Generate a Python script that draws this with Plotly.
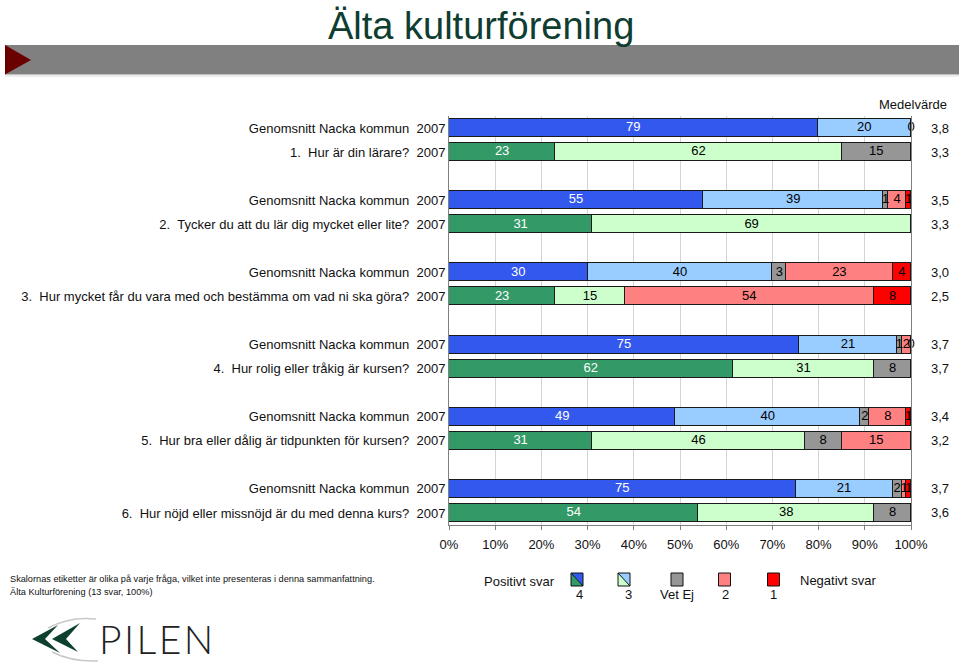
import plotly.graph_objects as go

# ---------------- data ----------------
questions = [
    "1.\u00a0\u00a0Hur är din lärare?",
    "2.\u00a0\u00a0Tycker du att du lär dig mycket eller lite?",
    "3.\u00a0\u00a0Hur mycket får du vara med och bestämma om vad ni ska göra?",
    "4.\u00a0\u00a0Hur rolig eller tråkig är kursen?",
    "5.\u00a0\u00a0Hur bra eller dålig är tidpunkten för kursen?",
    "6.\u00a0\u00a0Hur nöjd eller missnöjd är du med denna kurs?",
]
ref_label = "Genomsnitt Nacka kommun"
year_label = "2007"
categories = ["4", "3", "Vet Ej", "2", "1"]

# Genomsnitt Nacka kommun (None = no segment)
nacka_4 = [79, 55, 30, 75, 49, 75]
nacka_3 = [20, 39, 40, 21, 40, 21]
nacka_vetej = [0, 1, 3, 1, 2, 2]
nacka_2 = [None, 4, 23, 2, 8, 1]
nacka_1 = [None, 1, 4, 0, 1, 1]

# Älta kulturförening 2007
alta_4 = [23, 31, 23, 62, 31, 54]
alta_3 = [62, 69, 15, 31, 46, 38]
alta_vetej = [15, None, None, 8, 8, 8]
alta_2 = [None, None, 54, None, 15, None]
alta_1 = [None, None, 8, None, None, None]

nacka_mean = [3.8, 3.5, 3.0, 3.7, 3.4, 3.7]
alta_mean = [3.3, 3.3, 2.5, 3.7, 3.2, 3.6]

x_ticks = [0, 10, 20, 30, 40, 50, 60, 70, 80, 90, 100]
x_tick_labels = [f"{t}%" for t in x_ticks]

footer_lines = [
    "Skalornas etiketter är olika på varje fråga, vilket inte presenteras i denna sammanfattning.",
    "Älta Kulturförening (13 svar, 100%)",
]

# ---------------- styles ----------------
nacka_colors = ["#3358EE", "#99CCFF", "#969696", "#FF8080", "#FF0000"]
alta_colors = ["#339966", "#CCFFCC", "#969696", "#FF8080", "#FF0000"]
text_colors = ["white", "black", "black", "black", "black"]
FONT = "Arial, Liberation Sans, sans-serif"

W, H = 959, 662
L, R, T, B = 449, 48, 116, 137
PW, PH = W - L - R, H - T - B


def X(px):
    return (px - L) / PW


def Y(py):
    return (H - B - py) / PH


# ---------------- rows ----------------
nacka_series = [nacka_4, nacka_3, nacka_vetej, nacka_2, nacka_1]
alta_series = [alta_4, alta_3, alta_vetej, alta_2, alta_1]

rows = []  # (ypos, label, values, colors, mean)
for g, q in enumerate(questions):
    rows.append((3 * g, ref_label, [s[g] for s in nacka_series], nacka_colors, nacka_mean[g]))
    rows.append((3 * g + 1, q, [s[g] for s in alta_series], alta_colors, alta_mean[g]))

n_slots = 3 * len(questions) - 1

fig = go.Figure()
for k, cat in enumerate(categories):
    fig.add_trace(go.Bar(
        name=cat,
        orientation="h",
        y=[r[0] for r in rows],
        x=[r[2][k] for r in rows],
        width=0.75,
        marker=dict(color=[r[3][k] for r in rows], line=dict(color="#1a1a1a", width=1)),
        hoverinfo="skip",
        showlegend=False,
    ))

# segment labels placed at normalized midpoints
tx, ty, tt, tc = [], [], [], []
for ypos, _, vals, _, _ in rows:
    total = sum(v for v in vals if v is not None)
    cum = 0
    for k, v in enumerate(vals):
        if v is None:
            continue
        tx.append((cum + v / 2) / total * 100)
        ty.append(ypos)
        tt.append(str(v))
        tc.append(text_colors[k])
        cum += v
fig.add_trace(go.Scatter(
    x=tx, y=ty, text=tt, mode="text",
    textfont=dict(family=FONT, size=13, color=tc),
    textposition="middle center", cliponaxis=False,
    hoverinfo="skip", showlegend=False,
))

annotations = []
shapes = []

# mean values
for ypos, _, _, _, m in rows:
    annotations.append(dict(
        xref="paper", yref="y", x=X(939.5), y=ypos, text=f"{m:.1f}".replace(".", ","),
        showarrow=False, font=dict(family=FONT, size=13, color="#111"),
        xanchor="center", yanchor="middle",
    ))
annotations.append(dict(
    xref="paper", yref="paper", x=X(913), y=Y(105), text="Medelvärde",
    showarrow=False, font=dict(family=FONT, size=13, color="#111"),
    xanchor="center", yanchor="middle",
))

# title
annotations.append(dict(
    xref="paper", yref="paper", x=X(481), y=Y(26), text="Älta kulturförening",
    showarrow=False, font=dict(family=FONT, size=38, color="#0F3D30"),
    xanchor="center", yanchor="middle",
))

# banner
shapes.append(dict(type="rect", xref="paper", yref="paper", x0=X(5), x1=X(959), y0=Y(74.5), y1=Y(45),
                   fillcolor="#808080", line=dict(width=0), layer="above"))
shapes.append(dict(type="line", xref="paper", yref="paper", x0=X(5), x1=X(959), y0=Y(76), y1=Y(76),
                   line=dict(color="#d9d9d9", width=1)))
shapes.append(dict(type="path", xref="paper", yref="paper",
                   path=f"M {X(5)},{Y(45)} L {X(31)},{Y(60)} L {X(5)},{Y(74.5)} Z",
                   fillcolor="#6B0000", line=dict(width=0), layer="above"))

# footer text
for i, line in enumerate(footer_lines):
    annotations.append(dict(
        xref="paper", yref="paper", x=X(8), y=Y(579 + 13 * i), text=line,
        showarrow=False, font=dict(family=FONT, size=9.2, color="#111"),
        xanchor="left", yanchor="middle",
    ))

# legend
annotations.append(dict(xref="paper", yref="paper", x=X(482), y=Y(581), text="Positivt svar",
                        showarrow=False, font=dict(family=FONT, size=13, color="#111"),
                        xanchor="left", yanchor="middle"))
annotations.append(dict(xref="paper", yref="paper", x=X(798), y=Y(580), text="Negativt svar",
                        showarrow=False, font=dict(family=FONT, size=13, color="#111"),
                        xanchor="left", yanchor="middle"))
box_cx = [577, 624, 677, 724.5, 773.5]
lab_cx = [579, 628, 677, 725, 773]
by0, by1 = 573, 586
for k, cat in enumerate(categories):
    x0, x1 = box_cx[k] - 6, box_cx[k] + 6
    if k < 2:
        shapes.append(dict(type="path", xref="paper", yref="paper",
                           path=f"M {X(x0)},{Y(by0)} L {X(x1)},{Y(by0)} L {X(x1)},{Y(by1)} Z",
                           fillcolor=nacka_colors[k], line=dict(width=0)))
        shapes.append(dict(type="path", xref="paper", yref="paper",
                           path=f"M {X(x0)},{Y(by0)} L {X(x0)},{Y(by1)} L {X(x1)},{Y(by1)} Z",
                           fillcolor=alta_colors[k], line=dict(width=0)))
        shapes.append(dict(type="line", xref="paper", yref="paper",
                           x0=X(x0), y0=Y(by0), x1=X(x1), y1=Y(by1),
                           line=dict(color="#111", width=1)))
        shapes.append(dict(type="rect", xref="paper", yref="paper",
                           x0=X(x0), x1=X(x1), y0=Y(by1), y1=Y(by0),
                           line=dict(color="#111", width=1)))
    else:
        shapes.append(dict(type="rect", xref="paper", yref="paper",
                           x0=X(x0), x1=X(x1), y0=Y(by1), y1=Y(by0),
                           fillcolor=nacka_colors[k], line=dict(color="#111", width=1)))
    annotations.append(dict(xref="paper", yref="paper", x=X(lab_cx[k]), y=Y(594), text=cat,
                            showarrow=False, font=dict(family=FONT, size=13, color="#111"),
                            xanchor="center", yanchor="middle"))


# logo: chevrons + swoosh + PILEN
def path(points):
    s = f"M {X(points[0][0])},{Y(points[0][1])}"
    for p in points[1:]:
        s += f" L {X(p[0])},{Y(p[1])}"
    return s + " Z"


shapes.append(dict(type="path", xref="paper", yref="paper",
                   path=path([(32, 639), (58, 625), (45, 639), (60, 653)]),
                   fillcolor="#0E4030", line=dict(width=0)))
shapes.append(dict(type="path", xref="paper", yref="paper",
                   path=path([(52, 639), (80, 623), (66, 639), (78, 652)]),
                   fillcolor="#0E4030", line=dict(width=0)))
shapes.append(dict(type="path", xref="paper", yref="paper",
                   path=f"M {X(48)},{Y(628)} Q {X(70)},{Y(616)} {X(96)},{Y(619)}",
                   line=dict(color="#c8c8c8", width=1.5)))
shapes.append(dict(type="path", xref="paper", yref="paper",
                   path=f"M {X(52)},{Y(652)} Q {X(72)},{Y(662)} {X(98)},{Y(661)}",
                   line=dict(color="#c8c8c8", width=1.5)))
annotations.append(dict(xref="paper", yref="paper", x=X(97), y=Y(639),
                        text="P\u200aI\u200aL\u200aE\u200aN",
                        showarrow=False, font=dict(family="Lato, Inter, sans-serif", size=39,
                                                   color="#222", weight=300),
                        xanchor="left", yanchor="middle"))

fig.update_layout(
    width=W, height=H,
    margin=dict(l=L, r=R, t=T, b=B),
    paper_bgcolor="white", plot_bgcolor="white",
    barmode="stack", barnorm="percent", bargap=0,
    showlegend=False,
    font=dict(family=FONT, size=13, color="#111"),
    annotations=annotations,
    shapes=shapes,
)
fig.update_xaxes(
    range=[0, 100], tickvals=x_ticks, ticktext=x_tick_labels,
    showgrid=True, gridcolor="#d4d4d4", gridwidth=1,
    showline=True, linecolor="#808080", linewidth=1,
    ticks="outside", ticklen=4, tickcolor="#808080", ticklabelstandoff=3,
    tickfont=dict(family=FONT, size=13, color="#111"),
    zeroline=False, fixedrange=True,
)
fig.update_yaxes(
    range=[n_slots - 0.5, -0.5],
    tickvals=[r[0] for r in rows],
    ticktext=[f"{r[1]}\u00a0\u00a0{year_label}" for r in rows],
    showgrid=False, showline=True, mirror=True, linecolor="#808080", linewidth=1,
    ticks="", tickfont=dict(family=FONT, size=13, color="#111"),
    zeroline=False, fixedrange=True,
)

fig.write_html(
    "out.html",
    config={"displayModeBar": False},
    post_script="document.body.style.margin='0';document.body.style.overflow='hidden';",
)
